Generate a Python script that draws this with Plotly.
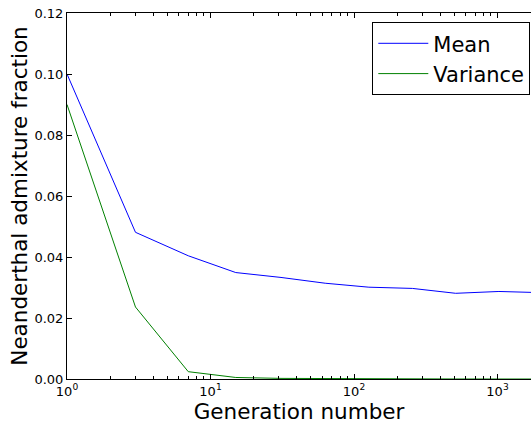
import plotly.graph_objects as go

generations = [1, 3, 7, 15, 31, 63, 127, 255, 511, 1023, 2047]
mean_vals = [0.100, 0.0481, 0.0404, 0.0349, 0.0333, 0.0314, 0.0301, 0.0297, 0.0281, 0.0287, 0.0283]
var_vals = [0.090, 0.0236, 0.0024, 0.0005, 0.0002, 0.0001, 0.00005, 0.00002, 0.00001, 0.0, 0.0]

x_major = [1, 10, 100, 1000]
x_major_text = ["10<sup>0</sup>", "10<sup>1</sup>", "10<sup>2</sup>", "10<sup>3</sup>"]
x_minor = [m * d for d in (1, 10, 100, 1000) for m in range(2, 10)]
y_ticks = [0.00, 0.02, 0.04, 0.06, 0.08, 0.10, 0.12]

FONT = "DejaVu Sans"

fig = go.Figure()
fig.add_trace(go.Scatter(x=generations, y=mean_vals, mode="lines", name="Mean",
                         line=dict(color="#0000ff", width=1)))
fig.add_trace(go.Scatter(x=generations, y=var_vals, mode="lines", name="Variance",
                         line=dict(color="#008000", width=1)))

fig.update_layout(
    width=531, height=425,
    margin=dict(l=67, r=0, t=13, b=46),
    paper_bgcolor="white", plot_bgcolor="white",
    font=dict(family=FONT, color="black", size=13),
    showlegend=True,
    legend=dict(x=0.9985, y=0.975, xanchor="right", yanchor="top",
                bordercolor="black", borderwidth=1, bgcolor="white",
                font=dict(family=FONT, size=21, color="black"),
                itemwidth=50, tracegroupgap=0),
)
fig.update_xaxes(
    type="log", range=[0, 464 / 143.5],
    tickmode="array", tickvals=x_major, ticktext=x_major_text,
    ticks="inside", ticklen=5, tickcolor="black", tickwidth=1,
    minor=dict(ticks="inside", ticklen=3, tickcolor="black", tickwidth=1, tickvals=x_minor),
    showline=True, linecolor="black", linewidth=1, mirror="ticks",
    showgrid=False, zeroline=False,
    tickfont=dict(family=FONT, size=13),
    title=dict(text="Generation number", font=dict(family=FONT, size=21.5), standoff=4),
)
fig.update_yaxes(
    range=[0, 0.12],
    tickmode="array", tickvals=y_ticks, tickformat=".2f",
    ticks="inside", ticklen=5, tickcolor="black", tickwidth=1,
    showline=True, linecolor="black", linewidth=1, mirror=False,
    showgrid=False, zeroline=False,
    tickfont=dict(family=FONT, size=13),
    title=dict(text="Neanderthal admixture fraction", font=dict(family=FONT, size=21.5), standoff=0),
)

fig.write_html("out.html", config={"displayModeBar": False},
               post_script="document.body.style.margin='0';document.body.style.overflow='hidden';")
